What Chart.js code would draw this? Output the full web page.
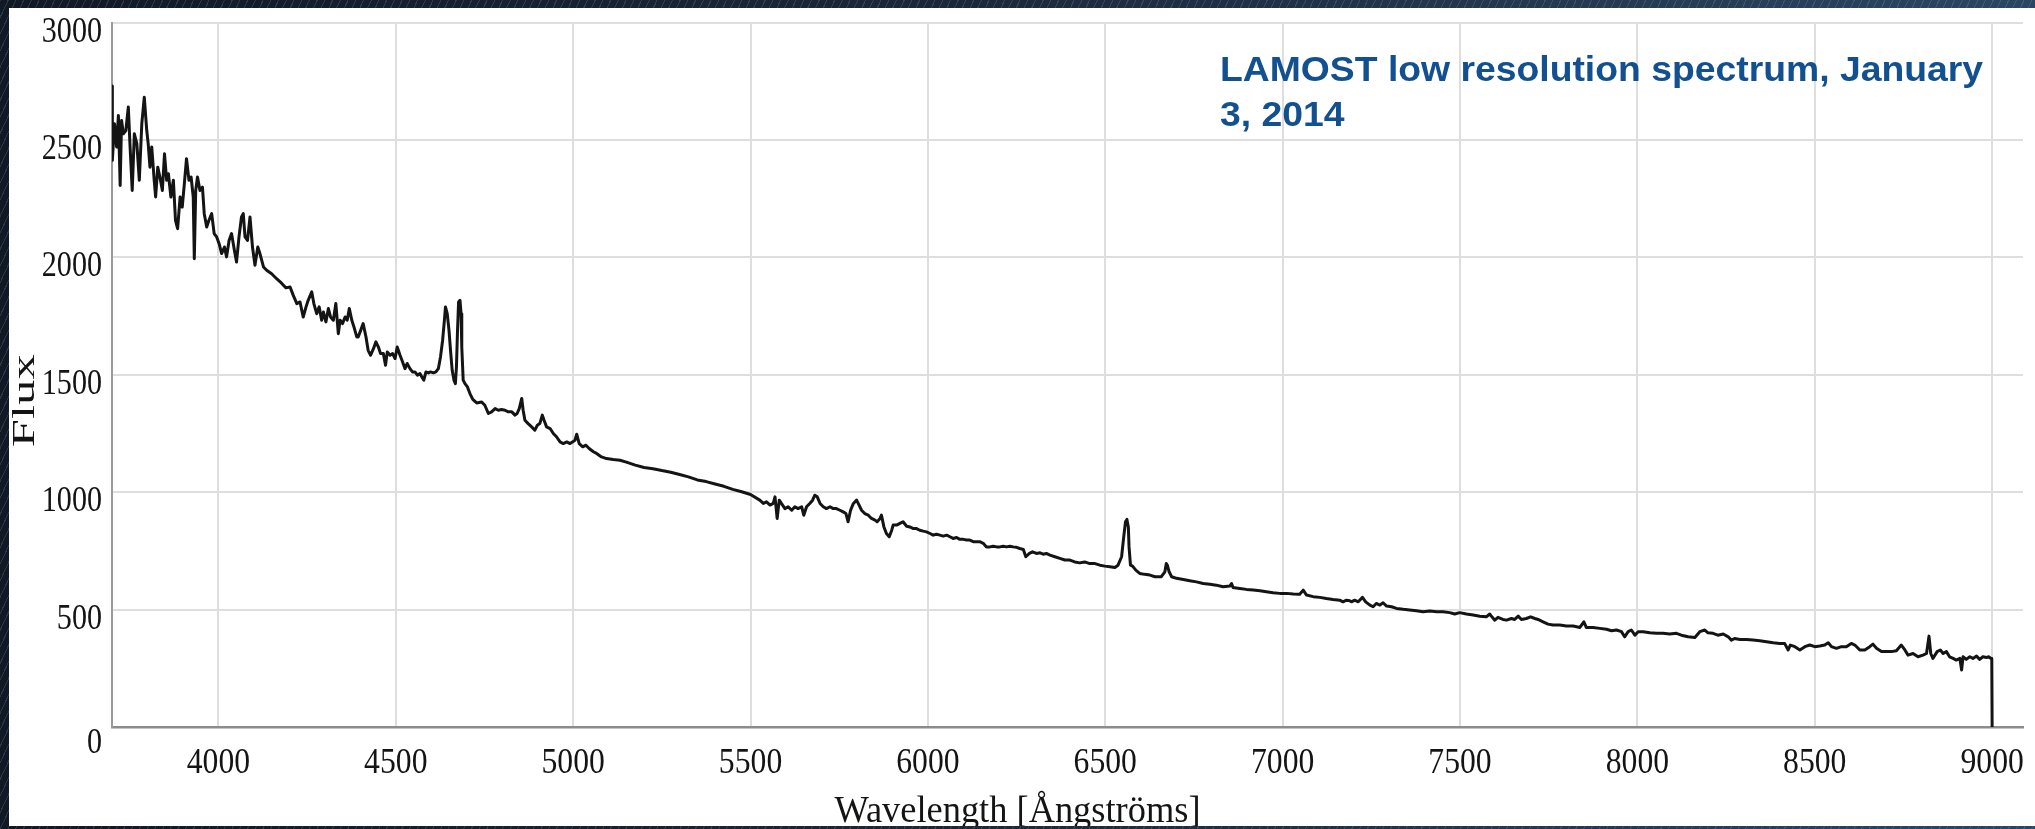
<!DOCTYPE html>
<html>
<head>
<meta charset="utf-8">
<title>LAMOST low resolution spectrum</title>
<script src="https://cdn.jsdelivr.net/npm/chart.js@4.4.1/dist/chart.umd.min.js"></script>
<style>
  html, body { margin: 0; padding: 0; width: 2035px; height: 829px; overflow: hidden; }
  body {
    position: relative;
    background:
      repeating-linear-gradient(115deg, rgba(150, 180, 220, 0.20) 0 1px, rgba(0, 0, 0, 0) 1px 7px),
      linear-gradient(90deg, #111925 0%, #1b2738 45%, #2b4662 100%);
  }
  #panel {
    position: absolute; left: 9px; top: 8px; width: 2026px; height: 818px;
    background: #ffffff; overflow: hidden;
  }
  #chart { display: block; }
</style>
</head>
<body>
<div id="panel"><canvas id="chart" width="2026" height="818"></canvas></div>
<script>
// Spectrum samples: wavelength in Ångströms and flux (arbitrary units)
const wavelength = [
  3700, 3701, 3707, 3713, 3718, 3723, 3727, 3732, 3739, 3746, 3751, 3757, 3763, 3770, 3777, 3784,
  3791, 3798, 3802, 3807, 3812, 3819, 3823, 3829, 3835, 3842, 3848, 3854, 3859, 3866, 3873, 3879,
  3885, 3892, 3898, 3904, 3910, 3917, 3923, 3929, 3932, 3936, 3941, 3948, 3955, 3960, 3967, 3973,
  3981, 3988, 3995, 4002, 4009, 4017, 4023, 4030, 4037, 4045, 4051, 4058, 4065, 4070, 4075, 4082,
  4089, 4096, 4103, 4111, 4117, 4127, 4136, 4150, 4164, 4178, 4190, 4202, 4211, 4221, 4230, 4239,
  4247, 4253, 4263, 4269, 4277, 4284, 4291, 4296, 4303, 4310, 4316, 4324, 4331, 4338, 4343, 4350,
  4357, 4363, 4369, 4376, 4382, 4390, 4394, 4401, 4408, 4416, 4422, 4429, 4437, 4444, 4451, 4457,
  4465, 4471, 4476, 4484, 4491, 4498, 4504, 4512, 4519, 4526, 4532, 4540, 4547, 4554, 4561, 4568,
  4576, 4579, 4585, 4592, 4598, 4606, 4613, 4620, 4626, 4632, 4637, 4640, 4645, 4650, 4655, 4659,
  4664, 4668, 4671, 4674, 4677, 4681, 4684, 4686, 4690, 4695, 4702, 4709, 4717, 4728, 4742, 4751,
  4761, 4770, 4780, 4789, 4798, 4808, 4817, 4827, 4836, 4842, 4848, 4855, 4859, 4864, 4873, 4883,
  4892, 4899, 4906, 4913, 4918, 4925, 4935, 4944, 4953, 4963, 4972, 4982, 4991, 4998, 5005, 5010,
  5017, 5027, 5036, 5045, 5057, 5066, 5080, 5094, 5113, 5132, 5150, 5175, 5200, 5225, 5250, 5275,
  5300, 5325, 5350, 5375, 5400, 5425, 5450, 5475, 5500, 5526, 5536, 5545, 5555, 5564, 5569, 5575,
  5581, 5587, 5597, 5606, 5616, 5625, 5634, 5644, 5650, 5658, 5667, 5675, 5681, 5688, 5696, 5705,
  5714, 5724, 5733, 5742, 5752, 5761, 5769, 5775, 5782, 5790, 5799, 5806, 5813, 5822, 5832, 5841,
  5851, 5857, 5865, 5869, 5876, 5883, 5891, 5898, 5902, 5912, 5921, 5930, 5940, 5949, 5959, 5968,
  5977, 5987, 5996, 6006, 6015, 6024, 6034, 6043, 6053, 6062, 6071, 6081, 6090, 6100, 6109, 6118,
  6128, 6137, 6146, 6156, 6165, 6175, 6184, 6194, 6203, 6212, 6222, 6231, 6240, 6250, 6259, 6269,
  6276, 6286, 6295, 6306, 6316, 6325, 6334, 6344, 6358, 6372, 6386, 6400, 6414, 6428, 6442, 6456,
  6471, 6485, 6499, 6513, 6527, 6536, 6546, 6552, 6557, 6561, 6565, 6567, 6571, 6577, 6586, 6597,
  6611, 6626, 6640, 6658, 6668, 6672, 6675, 6680, 6687, 6701, 6720, 6738, 6757, 6776, 6795, 6813,
  6832, 6851, 6856, 6860, 6879, 6898, 6917, 6936, 6954, 6973, 6992, 7011, 7030, 7048, 7058, 7067,
  7086, 7105, 7123, 7142, 7161, 7170, 7180, 7189, 7194, 7203, 7213, 7225, 7234, 7246, 7255, 7264,
  7274, 7283, 7293, 7307, 7321, 7340, 7358, 7377, 7396, 7415, 7434, 7452, 7471, 7485, 7499, 7518,
  7537, 7556, 7574, 7584, 7591, 7598, 7607, 7621, 7631, 7645, 7654, 7664, 7673, 7687, 7699, 7711,
  7720, 7734, 7748, 7762, 7781, 7800, 7819, 7838, 7849, 7856, 7875, 7894, 7913, 7927, 7941, 7955,
  7964, 7974, 7983, 7993, 8002, 8016, 8035, 8054, 8072, 8091, 8110, 8124, 8143, 8162, 8176, 8190,
  8199, 8213, 8227, 8242, 8256, 8265, 8274, 8289, 8307, 8326, 8345, 8364, 8383, 8401, 8415, 8425,
  8431, 8444, 8458, 8472, 8486, 8500, 8514, 8528, 8538, 8547, 8561, 8575, 8589, 8603, 8613, 8627,
  8641, 8655, 8664, 8674, 8688, 8702, 8716, 8730, 8744, 8754, 8763, 8777, 8791, 8805, 8815, 8822,
  8827, 8833, 8845, 8854, 8862, 8871, 8880, 8890, 8899, 8909, 8914, 8918, 8927, 8937, 8946, 8956,
  8965, 8974, 8984, 8991, 8996, 8999, 9000
];

const flux = [
  2730, 2413, 2569, 2470, 2604, 2306, 2583, 2526, 2540, 2640, 2470, 2285, 2526, 2484, 2328, 2569,
  2682, 2540, 2484, 2384, 2470, 2328, 2257, 2384, 2342, 2285, 2441, 2328, 2356, 2257, 2328, 2157,
  2122, 2257, 2214, 2314, 2420, 2328, 2342, 2257, 1994, 2285, 2342, 2285, 2299, 2186, 2129, 2157,
  2186, 2101, 2087, 2058, 2016, 2044, 2002, 2072, 2101, 2030, 1980, 2087, 2172, 2186, 2087, 2072,
  2172, 2044, 1966, 2044, 2016, 1959, 1945, 1930, 1909, 1890, 1870, 1874, 1838, 1803, 1810, 1746,
  1789, 1817, 1853, 1803, 1760, 1789, 1732, 1767, 1725, 1782, 1746, 1732, 1803, 1675, 1732, 1718,
  1746, 1732, 1782, 1732, 1704, 1661, 1661, 1689, 1718, 1661, 1604, 1583, 1611, 1640, 1618, 1590,
  1590, 1540, 1597, 1583, 1590, 1569, 1618, 1583, 1555, 1526, 1548, 1526, 1512, 1512, 1498, 1505,
  1484, 1477, 1512, 1508, 1512, 1508, 1512, 1526, 1576, 1647, 1732, 1789, 1760, 1689, 1590, 1519,
  1477, 1462, 1533, 1689, 1810, 1817, 1760, 1618, 1477, 1462, 1448, 1420, 1395, 1380, 1384, 1370,
  1335, 1342, 1356, 1349, 1352, 1349, 1342, 1342, 1328, 1335, 1356, 1399, 1349, 1306, 1292, 1278,
  1264, 1285, 1292, 1328, 1306, 1278, 1271, 1250, 1236, 1214, 1207, 1214, 1207, 1214, 1221, 1247,
  1207, 1193, 1200, 1186, 1172, 1165, 1150, 1143, 1139, 1136, 1128, 1115, 1105, 1100, 1092, 1085,
  1075, 1065, 1052, 1045, 1035, 1025, 1012, 1002, 990, 966, 952, 959, 945, 952, 980, 888,
  966, 952, 930, 938, 923, 938, 930, 938, 902, 938, 952, 966, 987, 980, 952, 938,
  930, 938, 930, 930, 923, 916, 909, 874, 923, 952, 966, 945, 923, 909, 902, 888,
  881, 874, 888, 902, 852, 824, 810, 838, 860, 860, 867, 874, 855, 852, 845, 845,
  838, 834, 831, 824, 817, 821, 817, 813, 817, 810, 803, 807, 799, 799, 796, 796,
  789, 789, 789, 782, 767, 767, 770, 767, 767, 770, 767, 770, 767, 765, 760, 756,
  725, 739, 746, 739, 742, 736, 739, 732, 725, 718, 711, 711, 703, 699, 703, 696,
  696, 689, 685, 682, 679, 689, 725, 810, 874, 884, 852, 767, 689, 685, 668, 654,
  650, 647, 640, 640, 661, 696, 689, 661, 640, 633, 628, 623, 618, 611, 608, 604,
  597, 600, 611, 594, 590, 586, 583, 580, 576, 572, 569, 569, 566, 565, 583, 562,
  555, 552, 547, 543, 540, 533, 540, 538, 533, 540, 533, 552, 533, 519, 512, 526,
  519, 529, 515, 512, 505, 501, 498, 495, 491, 494, 491, 491, 487, 481, 487, 481,
  477, 472, 469, 481, 467, 455, 467, 458, 455, 462, 458, 472, 458, 462, 469, 462,
  458, 448, 438, 434, 434, 430, 430, 424, 448, 424, 424, 420, 416, 410, 413, 406,
  384, 406, 413, 391, 406, 406, 401, 399, 399, 396, 399, 391, 384, 381, 406, 413,
  401, 399, 391, 396, 384, 370, 377, 373, 373, 370, 367, 363, 359, 356, 356, 328,
  349, 342, 328, 342, 349, 342, 345, 349, 359, 342, 335, 342, 342, 356, 349, 328,
  328, 342, 353, 335, 321, 321, 321, 325, 349, 328, 306, 313, 299, 306, 313, 387,
  313, 292, 321, 328, 313, 321, 299, 292, 285, 292, 243, 299, 288, 299, 292, 302,
  288, 299, 296, 299, 292, 292, 0
];

// Axis tick values
const xTickValues = [4000, 4500, 5000, 5500, 6000, 6500, 7000, 7500, 8000, 8500, 9000];
const yTickValues = [0, 500, 1000, 1500, 2000, 2500, 3000];

const titleLines = ['LAMOST low resolution spectrum, January', '3, 2014'];
const xAxisTitle = 'Wavelength [Ångströms]';
const yAxisTitle = 'Flux';

const points = wavelength.map((w, i) => ({ x: w, y: flux[i] }));

// Draws tick labels, axis titles and the caption in narrow serif / sans lettering
const labelPainter = {
  id: 'labelPainter',
  afterDraw(chart) {
    const { ctx, chartArea: area, scales } = chart;
    const xs = scales.x, ys = scales.y;
    ctx.save();
    ctx.fillStyle = '#141414';

    // x tick labels
    ctx.font = '36px "Liberation Serif"';
    ctx.textAlign = 'center';
    ctx.textBaseline = 'alphabetic';
    xs.ticks.forEach(t => {
      const px = xs.getPixelForValue(t.value);
      ctx.save();
      ctx.translate(px, area.bottom + 46);
      ctx.scale(0.88, 1);
      ctx.fillText(String(t.value), 0, 0);
      ctx.restore();
    });

    // y tick labels
    ctx.font = '35px "Liberation Serif"';
    ctx.textAlign = 'right';
    ys.ticks.forEach(t => {
      const py = ys.getPixelForValue(t.value);
      ctx.save();
      ctx.translate(area.left - 10, py + (t.value === 0 ? 26 : 19));
      ctx.scale(0.86, 1);
      ctx.fillText(String(t.value), 0, 0);
      ctx.restore();
    });

    // y axis title, rotated
    ctx.font = '32px "Liberation Serif"';
    ctx.textAlign = 'center';
    ctx.textBaseline = 'middle';
    ctx.save();
    ctx.translate(area.left - 86, (area.top + area.bottom) / 2 + 26);
    ctx.rotate(-Math.PI / 2);
    const fw = ctx.measureText(yAxisTitle).width;
    ctx.scale(93 / fw, 1);
    ctx.fillText(yAxisTitle, 0, 0);
    ctx.restore();

    // x axis title
    ctx.font = '38px "Liberation Serif"';
    ctx.textBaseline = 'alphabetic';
    ctx.save();
    ctx.translate((area.left + area.right) / 2 - 50, area.bottom + 95);
    const ww = ctx.measureText(xAxisTitle).width;
    ctx.scale(366 / ww, 1);
    ctx.fillText(xAxisTitle, 0, 0);
    ctx.restore();

    // caption
    ctx.fillStyle = '#12508f';
    ctx.font = 'bold 35px "Liberation Sans"';
    ctx.textAlign = 'left';
    const cw = ctx.measureText(titleLines[0]).width;
    const sx = 763 / cw;
    titleLines.forEach((line, i) => {
      ctx.save();
      ctx.translate(1211, 73 + i * 45);
      ctx.scale(sx, 1);
      ctx.fillText(line, 0, 0);
      ctx.restore();
    });

    ctx.restore();
  }
};

new Chart(document.getElementById('chart'), {
  type: 'line',
  data: {
    datasets: [{
      data: points,
      borderColor: '#141414',
      borderWidth: 3,
      borderJoinStyle: 'round',
      pointRadius: 0,
      tension: 0,
      fill: false
    }]
  },
  options: {
    responsive: false,
    animation: false,
    devicePixelRatio: 1,
    layout: { padding: { left: 103, top: 14.5, right: 12, bottom: 99 } },
    plugins: { legend: { display: false }, tooltip: { enabled: false }, title: { display: false } },
    scales: {
      x: {
        type: 'linear',
        min: 3700,
        max: 9087,
        afterBuildTicks: s => { s.ticks = xTickValues.map(v => ({ value: v })); },
        afterFit: s => { s.height = 0; },
        ticks: { display: false },
        grid: { color: '#dedede', lineWidth: 2, drawTicks: false },
        border: { color: '#8c8c8c', width: 2.5 }
      },
      y: {
        type: 'linear',
        min: 0,
        max: 3000,
        afterBuildTicks: s => { s.ticks = yTickValues.map(v => ({ value: v })); },
        afterFit: s => { s.width = 0; },
        ticks: { display: false },
        grid: { color: '#dedede', lineWidth: 2, drawTicks: false },
        border: { color: '#9a9a9a', width: 2 }
      }
    }
  },
  plugins: [labelPainter]
});
</script>
</body>
</html>
